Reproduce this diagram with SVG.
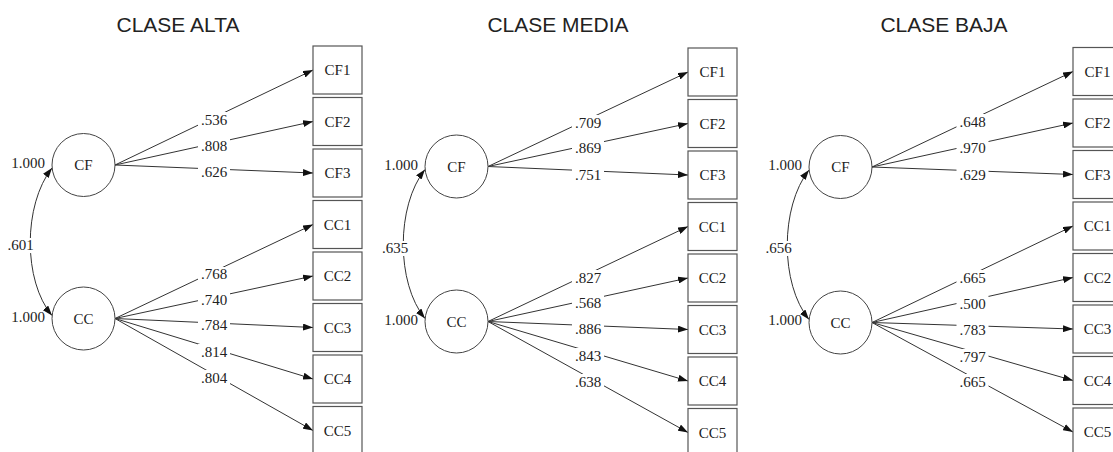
<svg xmlns="http://www.w3.org/2000/svg" width="1113" height="452" viewBox="0 0 1113 452">
<style>
.title{font-family:"Liberation Sans",Arial,sans-serif;font-size:21px;fill:#222;text-anchor:middle}
.t{font-family:"Liberation Serif","Times New Roman",serif;font-size:15px;fill:#222;text-anchor:middle}
.te{font-family:"Liberation Serif","Times New Roman",serif;font-size:15px;fill:#222;text-anchor:end}
.lat{fill:#fff;stroke:#444;stroke-width:1}
.obs{fill:#fff;stroke:#555;stroke-width:1.2}
.ln{fill:none;stroke:#333;stroke-width:1;marker-end:url(#ah)}
.cv{fill:none;stroke:#333;stroke-width:1;marker-start:url(#ah);marker-end:url(#ah)}
.bg{fill:#fff}
</style>
<defs>
<marker id="ah" markerUnits="userSpaceOnUse" markerWidth="10" markerHeight="7" refX="10" refY="3.5" orient="auto-start-reverse">
<path d="M0,0 L10,3.5 L0,7 z" fill="#111"/>
</marker>
</defs>
<rect width="1113" height="452" fill="#fff"/>

<text class="title" x="178" y="32">CLASE ALTA</text>
<text class="title" x="558" y="32">CLASE MEDIA</text>
<text class="title" x="944" y="32">CLASE BAJA</text>

<g id="connectors">
<!-- Panel 1 -->
<path class="cv" d="M52,168 C23,205 23,281 52,315.5"/>
<line class="ln" x1="115" y1="165" x2="313" y2="70"/>
<line class="ln" x1="115" y1="165" x2="313" y2="121.5"/>
<line class="ln" x1="115" y1="165" x2="313" y2="173"/>
<line class="ln" x1="115" y1="318.5" x2="313" y2="224.5"/>
<line class="ln" x1="115" y1="318.5" x2="313" y2="276"/>
<line class="ln" x1="115" y1="318.5" x2="313" y2="327.5"/>
<line class="ln" x1="115" y1="318.5" x2="313" y2="379"/>
<line class="ln" x1="115" y1="318.5" x2="313" y2="430.5"/>
<!-- Panel 2 -->
<path class="cv" d="M425,169.5 C396,206 396,283 425,318.5"/>
<line class="ln" x1="488" y1="166.5" x2="688" y2="72"/>
<line class="ln" x1="488" y1="166.5" x2="688" y2="123.5"/>
<line class="ln" x1="488" y1="166.5" x2="688" y2="175"/>
<line class="ln" x1="488" y1="321.5" x2="688" y2="226.5"/>
<line class="ln" x1="488" y1="321.5" x2="688" y2="278"/>
<line class="ln" x1="488" y1="321.5" x2="688" y2="329.5"/>
<line class="ln" x1="488" y1="321.5" x2="688" y2="381"/>
<line class="ln" x1="488" y1="321.5" x2="688" y2="432.5"/>
<!-- Panel 3 -->
<path class="cv" d="M809,170 C780,207 780,284 809,319.5"/>
<line class="ln" x1="872" y1="167" x2="1073" y2="71.5"/>
<line class="ln" x1="872" y1="167" x2="1073" y2="123"/>
<line class="ln" x1="872" y1="167" x2="1073" y2="174.5"/>
<line class="ln" x1="872" y1="322.5" x2="1073" y2="226"/>
<line class="ln" x1="872" y1="322.5" x2="1073" y2="277.5"/>
<line class="ln" x1="872" y1="322.5" x2="1073" y2="329"/>
<line class="ln" x1="872" y1="322.5" x2="1073" y2="380.5"/>
<line class="ln" x1="872" y1="322.5" x2="1073" y2="432"/>

<!-- labels panel 1 -->
<g>
<rect class="bg" x="6" y="238" width="29" height="15"/><text class="t" x="20.5" y="250">.601</text>
<rect class="bg" x="198" y="112" width="32" height="15"/><text class="t" x="214" y="124.5">.536</text>
<rect class="bg" x="198" y="138" width="32" height="15"/><text class="t" x="214" y="150.5">.808</text>
<rect class="bg" x="198" y="164" width="32" height="15"/><text class="t" x="214" y="176.5">.626</text>
<rect class="bg" x="198" y="267" width="32" height="15"/><text class="t" x="214" y="279">.768</text>
<rect class="bg" x="198" y="292" width="32" height="15"/><text class="t" x="214" y="304.5">.740</text>
<rect class="bg" x="198" y="318" width="32" height="15"/><text class="t" x="214" y="330">.784</text>
<rect class="bg" x="198" y="344" width="32" height="15"/><text class="t" x="214" y="356.5">.814</text>
<rect class="bg" x="198" y="370" width="32" height="15"/><text class="t" x="214" y="382.5">.804</text>
</g>
<!-- labels panel 2 -->
<g>
<rect class="bg" x="380" y="241" width="30" height="15"/><text class="t" x="395" y="253">.635</text>
<rect class="bg" x="572" y="115" width="32" height="15"/><text class="t" x="588" y="127.5">.709</text>
<rect class="bg" x="572" y="140" width="32" height="15"/><text class="t" x="588" y="152.5">.869</text>
<rect class="bg" x="572" y="167" width="32" height="15"/><text class="t" x="588" y="179.5">.751</text>
<rect class="bg" x="572" y="270" width="32" height="15"/><text class="t" x="588" y="282.5">.827</text>
<rect class="bg" x="572" y="295" width="32" height="15"/><text class="t" x="588" y="307.5">.568</text>
<rect class="bg" x="572" y="321" width="32" height="15"/><text class="t" x="588" y="333.5">.886</text>
<rect class="bg" x="572" y="348" width="32" height="15"/><text class="t" x="588" y="360.5">.843</text>
<rect class="bg" x="572" y="374" width="32" height="15"/><text class="t" x="588" y="386.5">.638</text>
</g>
<!-- labels panel 3 -->
<g>
<rect class="bg" x="763.5" y="241" width="30" height="15"/><text class="t" x="778.5" y="253">.656</text>
<rect class="bg" x="956.5" y="114" width="32" height="15"/><text class="t" x="972.5" y="126.5">.648</text>
<rect class="bg" x="956.5" y="140" width="32" height="15"/><text class="t" x="972.5" y="152.5">.970</text>
<rect class="bg" x="956.5" y="167" width="32" height="15"/><text class="t" x="972.5" y="179.5">.629</text>
<rect class="bg" x="956.5" y="270" width="32" height="15"/><text class="t" x="972.5" y="282.5">.665</text>
<rect class="bg" x="956.5" y="296" width="32" height="15"/><text class="t" x="972.5" y="308.5">.500</text>
<rect class="bg" x="956.5" y="322" width="32" height="15"/><text class="t" x="972.5" y="334.5">.783</text>
<rect class="bg" x="956.5" y="349" width="32" height="15"/><text class="t" x="972.5" y="361.5">.797</text>
<rect class="bg" x="956.5" y="374" width="32" height="15"/><text class="t" x="972.5" y="386.5">.665</text>
</g>
</g>

<!-- Panel 1 nodes -->
<g id="alta-CF"><circle class="lat" cx="83.5" cy="165" r="31.5"/><text class="t" x="83.5" y="170">CF</text><text class="te" x="45" y="168">1.000</text></g>
<g id="alta-CC"><circle class="lat" cx="83.5" cy="318.5" r="31.5"/><text class="t" x="83.5" y="323.5">CC</text><text class="te" x="45" y="322">1.000</text></g>
<g id="alta-CF1"><rect class="obs" x="313" y="46" width="49" height="48"/><text class="t" x="337.5" y="75">CF1</text></g>
<g id="alta-CF2"><rect class="obs" x="313" y="97.5" width="49" height="48"/><text class="t" x="337.5" y="126.5">CF2</text></g>
<g id="alta-CF3"><rect class="obs" x="313" y="149" width="49" height="48"/><text class="t" x="337.5" y="178">CF3</text></g>
<g id="alta-CC1"><rect class="obs" x="313" y="200.5" width="49" height="48"/><text class="t" x="337.5" y="229.5">CC1</text></g>
<g id="alta-CC2"><rect class="obs" x="313" y="252" width="49" height="48"/><text class="t" x="337.5" y="281">CC2</text></g>
<g id="alta-CC3"><rect class="obs" x="313" y="303.5" width="49" height="48"/><text class="t" x="337.5" y="332.5">CC3</text></g>
<g id="alta-CC4"><rect class="obs" x="313" y="355" width="49" height="48"/><text class="t" x="337.5" y="384">CC4</text></g>
<g id="alta-CC5"><rect class="obs" x="313" y="406.5" width="49" height="48"/><text class="t" x="337.5" y="435.5">CC5</text></g>

<!-- Panel 2 nodes -->
<g id="media-CF"><circle class="lat" cx="456.5" cy="166.5" r="31.5"/><text class="t" x="456.5" y="171.5">CF</text><text class="te" x="418" y="170">1.000</text></g>
<g id="media-CC"><circle class="lat" cx="456.5" cy="321.5" r="31.5"/><text class="t" x="456.5" y="326.5">CC</text><text class="te" x="418" y="325">1.000</text></g>
<g id="media-CF1"><rect class="obs" x="688" y="48" width="49" height="48"/><text class="t" x="712.5" y="77">CF1</text></g>
<g id="media-CF2"><rect class="obs" x="688" y="99.5" width="49" height="48"/><text class="t" x="712.5" y="128.5">CF2</text></g>
<g id="media-CF3"><rect class="obs" x="688" y="151" width="49" height="48"/><text class="t" x="712.5" y="180">CF3</text></g>
<g id="media-CC1"><rect class="obs" x="688" y="202.5" width="49" height="48"/><text class="t" x="712.5" y="231.5">CC1</text></g>
<g id="media-CC2"><rect class="obs" x="688" y="254" width="49" height="48"/><text class="t" x="712.5" y="283">CC2</text></g>
<g id="media-CC3"><rect class="obs" x="688" y="305.5" width="49" height="48"/><text class="t" x="712.5" y="334.5">CC3</text></g>
<g id="media-CC4"><rect class="obs" x="688" y="357" width="49" height="48"/><text class="t" x="712.5" y="386">CC4</text></g>
<g id="media-CC5"><rect class="obs" x="688" y="408.5" width="49" height="48"/><text class="t" x="712.5" y="437.5">CC5</text></g>

<!-- Panel 3 nodes -->
<g id="baja-CF"><circle class="lat" cx="840.5" cy="167" r="31.5"/><text class="t" x="840.5" y="172">CF</text><text class="te" x="802" y="170">1.000</text></g>
<g id="baja-CC"><circle class="lat" cx="840.5" cy="322.5" r="31.5"/><text class="t" x="840.5" y="327.5">CC</text><text class="te" x="802" y="325">1.000</text></g>
<g id="baja-CF1"><rect class="obs" x="1073" y="47.5" width="49" height="48"/><text class="t" x="1097.5" y="76.5">CF1</text></g>
<g id="baja-CF2"><rect class="obs" x="1073" y="99" width="49" height="48"/><text class="t" x="1097.5" y="128">CF2</text></g>
<g id="baja-CF3"><rect class="obs" x="1073" y="150.5" width="49" height="48"/><text class="t" x="1097.5" y="179.5">CF3</text></g>
<g id="baja-CC1"><rect class="obs" x="1073" y="202" width="49" height="48"/><text class="t" x="1097.5" y="231">CC1</text></g>
<g id="baja-CC2"><rect class="obs" x="1073" y="253.5" width="49" height="48"/><text class="t" x="1097.5" y="282.5">CC2</text></g>
<g id="baja-CC3"><rect class="obs" x="1073" y="305" width="49" height="48"/><text class="t" x="1097.5" y="334">CC3</text></g>
<g id="baja-CC4"><rect class="obs" x="1073" y="356.5" width="49" height="48"/><text class="t" x="1097.5" y="385.5">CC4</text></g>
<g id="baja-CC5"><rect class="obs" x="1073" y="408" width="49" height="48"/><text class="t" x="1097.5" y="437">CC5</text></g>
</svg>
